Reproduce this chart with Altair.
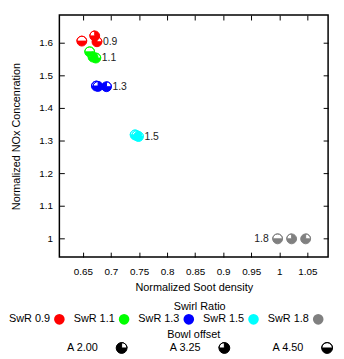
import altair as alt
import pandas as pd

# ---------------- data ----------------
swirl = ["SwR 0.9"] * 3 + ["SwR 1.1"] * 3 + ["SwR 1.3"] * 3 + ["SwR 1.5"] * 3 + ["SwR 1.8"] * 3
offset = ["A 2.00", "A 3.25", "A 4.50"] * 5
soot = [0.675, 0.671, 0.648,
        0.673, 0.668, 0.662,
        0.692, 0.677, 0.674,
        0.749, 0.746, 0.743,
        1.047, 1.022, 0.997]
nox = [1.603, 1.621, 1.605,
       1.553, 1.556, 1.572,
       1.465, 1.466, 1.467,
       1.312, 1.315, 1.317,
       0.998, 0.998, 0.998]

label_text = ["0.9", "1.1", "1.3", "1.5", "1.8"]
label_soot = [0.675, 0.673, 0.692, 0.749, 0.997]
label_nox = [1.603, 1.553, 1.465, 1.312, 0.998]
label_side = ["right", "right", "right", "right", "left"]

swirl_levels = ["SwR 0.9", "SwR 1.1", "SwR 1.3", "SwR 1.5", "SwR 1.8"]
swirl_colors = ["#ff0000", "#00ff00", "#0000ff", "#00ffff", "#808080"]
offset_levels = ["A 2.00", "A 3.25", "A 4.50"]

x_ticks = [0.65, 0.7, 0.75, 0.8, 0.85, 0.9, 0.95, 1.0, 1.05]
y_ticks = [1.0, 1.1, 1.2, 1.3, 1.4, 1.5, 1.6]
x_domain = [0.608, 1.087]
y_domain = [0.942, 1.685]

# pie glyphs (unit circle): filled part + outline of the empty part
glyph_paths = {
    "A 2.00": "M0,0 L0,-1 A1,1 0 1 0 1,0 Z M0,-1 A1,1 0 0 1 1,0 A1,1 0 0 0 0,-1",
    "A 3.25": "M0,0 L0,-1 A1,1 0 1 1 -1,0 Z M-1,0 A1,1 0 0 1 0,-1 A1,1 0 0 0 -1,0",
    "A 4.50": "M-1,0 A1,1 0 0 0 1,0 Z M-1,0 A1,1 0 0 1 1,0 A1,1 0 0 0 -1,0",
}

df = pd.DataFrame({"swirl": swirl, "offset": offset, "soot": soot, "nox": nox})
labels = pd.DataFrame({"text": label_text, "soot": label_soot, "nox": label_nox, "side": label_side})
swirl_df = pd.DataFrame({"swirl": swirl_levels})
offset_df = pd.DataFrame({"offset": offset_levels})

FONT = "Liberation Sans"

xs = alt.Scale(domain=x_domain, nice=False, zero=False)
ys = alt.Scale(domain=y_domain, nice=False, zero=False)
color_scale = alt.Scale(domain=swirl_levels, range=swirl_colors)
shape_scale = alt.Scale(domain=offset_levels, range=[glyph_paths[k] for k in offset_levels])

x_axis = alt.Axis(values=x_ticks, format="~g", title="Normalized Soot density", orient="bottom",
                  offset=-5, tickSize=5, domain=False, grid=False, labelPadding=10,
                  titlePadding=5)
y_axis = alt.Axis(values=y_ticks, format="~g", title="Normalized NOx Concenration", orient="left",
                  offset=-5, tickSize=5, domain=False, grid=False, labelPadding=7,
                  titlePadding=17)
x_top = alt.Axis(values=x_ticks, orient="top", offset=-5, tickSize=5, domain=False, grid=False,
                 labels=False, title=None)
y_right = alt.Axis(values=y_ticks, orient="right", offset=-5, tickSize=5, domain=False, grid=False,
                   labels=False, title=None)

# ---------------- main plot ----------------
points = alt.Chart(df).mark_point(filled=True, opacity=1, strokeWidth=1, size=100).encode(
    x=alt.X("soot:Q", scale=xs, axis=x_axis),
    y=alt.Y("nox:Q", scale=ys, axis=y_axis),
    color=alt.Color("swirl:N", scale=color_scale, legend=None),
    stroke=alt.Stroke("swirl:N", scale=color_scale, legend=None),
    shape=alt.Shape("offset:N", scale=shape_scale, legend=None),
)

text_right = alt.Chart(labels).transform_filter(alt.datum.side == "right").mark_text(
    align="left", baseline="middle", dx=6, fontSize=10.5, font=FONT, color="#222222"
).encode(
    x=alt.X("soot:Q", scale=xs, axis=x_top),
    y=alt.Y("nox:Q", scale=ys, axis=y_right),
    text="text:N",
)

text_left = alt.Chart(labels).transform_filter(alt.datum.side == "left").mark_text(
    align="right", baseline="middle", dx=-9, fontSize=10.5, font=FONT, color="#222222"
).encode(
    x=alt.X("soot:Q", scale=xs, axis=None),
    y=alt.Y("nox:Q", scale=ys, axis=None),
    text="text:N",
)

main = alt.layer(points, text_right, text_left).resolve_axis(
    x="independent", y="independent"
).properties(width=272, height=245)

# ---------------- legends (label left of symbol) ----------------
no_frame = alt.ViewBackground(stroke="transparent")

lx1 = alt.X("swirl:N", scale=alt.Scale(domain=swirl_levels, range=[0, 262], padding=0), axis=None)
leg1_sym = alt.Chart(swirl_df).mark_point(filled=True, opacity=1, size=115, shape="circle").encode(
    x=lx1, color=alt.Color("swirl:N", scale=color_scale, legend=None)
)
leg1_txt = alt.Chart(swirl_df).mark_text(
    align="right", baseline="middle", dx=-9.5, fontSize=11, font=FONT, color="black"
).encode(x=lx1, text="swirl:N")
legend1 = alt.layer(leg1_sym, leg1_txt).properties(
    width=262, height=12, view=no_frame,
    title=alt.TitleParams("Swirl Ratio", anchor="middle", dx=11, offset=1, fontSize=11,
                          fontWeight="normal", font=FONT, color="black"),
)

lx2 = alt.X("offset:N", scale=alt.Scale(domain=offset_levels, range=[63, 271], padding=0),
            axis=None)
leg2_sym = alt.Chart(offset_df).mark_point(
    filled=True, opacity=1, size=121, color="black", stroke="black", strokeWidth=1
).encode(x=lx2, shape=alt.Shape("offset:N", scale=shape_scale, legend=None))
leg2_txt = alt.Chart(offset_df).mark_text(
    align="right", baseline="middle", dx=-24, fontSize=11, font=FONT, color="black"
).encode(x=lx2, text="offset:N")
legend2 = alt.layer(leg2_sym, leg2_txt).properties(
    width=272, height=12, view=no_frame,
    title=alt.TitleParams("Bowl offset", anchor="middle", dx=0, offset=1, fontSize=11,
                          fontWeight="normal", font=FONT, color="black"),
)

legends = alt.vconcat(legend1, legend2, spacing=17, bounds="flush")

chart = alt.vconcat(main, legends, spacing=57, bounds="flush").properties(
    autosize=alt.AutoSizeParams(type="pad"),
    padding={"left": 0, "top": 3, "right": 0, "bottom": 0},
).configure_view(
    stroke="black", strokeWidth=1.5
).configure_axis(
    labelFont=FONT, titleFont=FONT, labelFontSize=10, titleFontSize=11,
    labelColor="black", titleColor="black", tickColor="black", tickWidth=1,
    titleFontWeight="normal",
)

chart.save("out.html", embed_options={"renderer": "svg", "actions": False})
